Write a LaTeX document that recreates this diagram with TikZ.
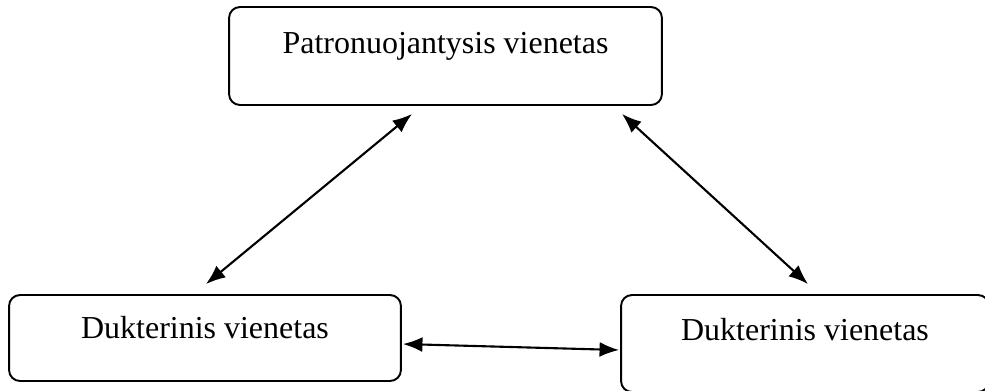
\documentclass[tikz,border=0pt]{standalone}
\usepackage{fontspec}
\setmainfont{Liberation Serif}
\usetikzlibrary{arrows.meta, calc}

\begin{document}
\begin{tikzpicture}[
		x=0.02cm,
		y=-0.02cm,
		font=\fontsize{18.2}{22}\selectfont,
		unitbox/.style={draw, line width=1.1pt, rounded corners=0.22cm, align=center, text height=0.46cm, inner xsep=0pt},
		link/.style={{Latex[length=3.9mm,width=3mm]}-{Latex[length=3.9mm,width=3mm]}, line width=1.2pt}
		]
		\useasboundingbox (0,0) rectangle (985,390);
		\clip (0,0) rectangle (985,390);
		
		% Units
		\node[unitbox, minimum width=8.66cm, inner ysep=0.46cm, text depth=0.58cm] (parent) at (445.5,56) {Patronuojantysis vienetas};
		\node[unitbox, minimum width=7.84cm, inner ysep=0.40cm, text depth=0.46cm] (childl) at (205,338) {Dukterinis vienetas};
		\node[unitbox, minimum width=7.36cm, inner ysep=0.44cm, text depth=0.60cm] (childr) at (805,343.5) {Dukterinis vienetas};
		
		% Links
		\draw[link] ([shift={(-33.5,8)}]parent.south) -- ([shift={(1,-10)}]childl.north);
		\draw[link] ([shift={(176.5,8)}]parent.south) -- ([shift={(3,-10)}]childr.north);
		\draw[link] ([shift={(1,6)}]childl.east) -- ([shift={(-1,6.5)}]childr.west);
	\end{tikzpicture}
\end{document}
